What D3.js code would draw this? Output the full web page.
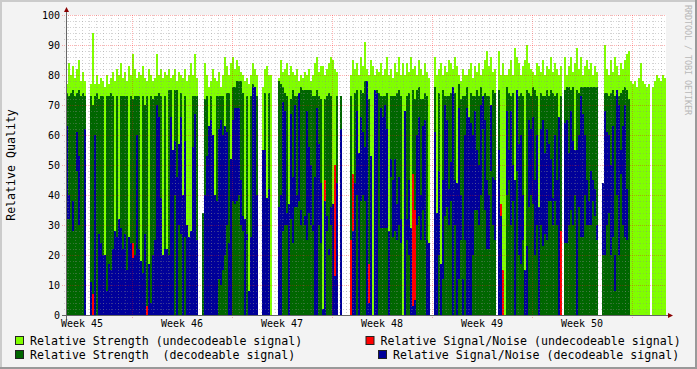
<!DOCTYPE html>
<html>
<head>
<meta charset="utf-8">
<script src="https://cdn.jsdelivr.net/npm/d3@7"></script>
<style>
  html, body { margin: 0; padding: 0; background: #fff; }
  svg { display: block; }
  text { font-family: "DejaVu Sans Mono", monospace; fill: #000; }
</style>
</head>
<body>
<svg id="chart" width="697" height="369"></svg>
<script>
// one sample every 12096 s (3.36 h), six weeks of samples
const startTime = Date.UTC( 2008, 10, 5, 9, 7, 12 );
const stepSeconds = 12096;

// Relative Strength (undecodeable signal)
const strengthUndecodable = [
  77,84,80,83,79,82,85,78,81,78,null,null,77,94,77,80,77,79,78,76,80,77,79,81,78,82,80,84,79,81,78,83,80,87,82,79,81,80,83,79,78,82,80,78,79,87,80,82,79,81,
  80,82,79,80,82,78,81,80,79,82,78,80,84,80,87,79,null,null,34,84,80,76,78,82,79,78,81,76,80,86,83,80,84,86,82,85,83,81,80,78,79,77,80,84,82,80,null,null,76,82,
  83,80,80,null,null,null,79,85,81,82,84,80,83,81,80,82,78,80,79,81,80,82,78,80,84,86,81,83,83,80,82,84,86,85,82,81,null,0,null,null,null,null,80,85,82,84,80,86,83,91,
  82,80,85,83,80,82,81,84,80,82,86,80,82,79,84,81,86,80,84,80,84,81,86,82,83,80,85,82,80,84,81,79,null,null,86,80,82,84,80,83,81,85,84,82,86,83,80,78,82,80,
  80,82,84,79,83,81,84,80,82,85,88,83,86,81,82,null,88,80,84,80,80,82,85,80,89,86,84,80,83,85,90,84,82,81,80,84,83,81,85,80,83,82,86,81,84,82,80,83,null,86,
  80,83,86,81,84,89,82,86,80,83,85,82,84,80,83,81,null,null,44,90,82,80,85,81,86,83,80,84,82,85,87,88,78,77,78,76,79,84,78,77,76,77,null,76,78,80,79,78,80,79
];

// Relative Strength (decodeable signal)
const strengthDecodable = [
  74,73,74,75,73,74,75,73,74,73,null,null,73,70,73,74,72,73,73,0,73,73,74,73,0,73,0,73,73,73,73,0,73,72,73,73,73,0,73,70,73,0,73,72,73,73,74,73,0,73,
  0,75,75,0,75,75,0,74,0,73,0,0,0,73,73,73,null,null,34,72,73,0,73,0,0,73,73,73,73,0,74,74,0,76,76,78,78,78,74,0,73,0,73,77,74,73,null,null,0,74,
  0,74,0,null,null,null,78,77,76,74,73,0,72,75,73,73,74,76,75,75,75,75,75,73,73,75,73,72,0,72,73,74,73,0,0,73,null,73,null,null,null,null,73,0,74,75,0,75,74,78,
  77,72,0,0,75,75,74,73,73,73,74,0,73,73,73,74,75,73,0,68,73,74,0,75,72,75,76,72,72,74,73,0,null,null,76,0,74,0,75,73,73,73,74,76,74,0,77,72,73,73,
  76,0,74,73,73,75,73,76,73,74,73,73,70,75,74,null,75,0,0,0,76,74,73,74,0,75,73,74,73,0,75,74,73,76,75,73,0,74,73,73,75,73,75,74,73,74,0,73,null,75,
  76,76,75,76,0,75,74,76,76,76,76,76,76,76,76,76,null,null,44,74,74,73,74,75,73,72,73,74,75,76,75,72,0,0,0,0,0,0,0,0,0,0,null,0,0,0,0,0,0,0
];

// Relative Signal/Noise (undecodeable signal)
const snrUndecodable = [
  0,0,0,0,0,0,0,0,0,0,null,null,0,7,0,0,0,0,0,0,0,0,0,0,0,0,0,0,0,0,0,0,0,24,0,0,0,0,0,0,3,0,0,0,0,0,0,0,0,0,
  0,0,0,0,0,0,0,0,0,0,0,0,0,0,0,0,null,null,0,0,0,0,0,0,0,0,0,0,0,0,0,0,0,0,0,0,0,0,0,0,0,0,0,0,0,0,null,null,0,0,
  0,0,0,null,null,null,0,0,0,0,0,0,0,0,0,0,0,0,0,0,0,0,0,0,0,0,0,0,0,45,0,0,0,0,50,0,null,0,null,null,null,null,25,47,0,0,0,0,0,0,
  0,17,0,0,0,0,0,0,0,0,0,0,0,0,0,0,0,0,0,0,0,0,0,47,35,0,0,0,0,0,0,0,null,null,0,0,0,0,0,0,0,0,0,0,0,0,0,0,0,0,
  0,0,0,0,0,0,0,0,0,0,0,0,0,0,0,null,0,37,15,0,0,0,0,0,0,0,0,0,0,0,0,0,0,0,0,0,0,0,0,0,0,0,0,0,0,0,0,28,null,0,
  0,0,0,0,0,0,0,0,0,0,0,0,0,0,0,0,null,null,0,0,0,0,0,0,0,0,0,0,0,0,0,0,0,0,0,0,0,0,0,0,0,0,null,0,0,0,0,0,0,0
];

// Relative Signal/Noise (decodeable signal), top of the band
const snrDecodable = [
  63,40,0,38,0,61,53,0,0,62,null,null,11,0,60,0,27,24,20,20,8,17,15,22,28,26,32,29,22,27,15,26,24,19,20,60,22,18,14,27,0,17,4,20,25,70,66,39,20,22,
  22,20,66,55,58,46,57,66,40,58,30,26,28,56,67,25,null,null,0,40,53,63,65,60,40,38,62,65,60,63,61,24,52,65,69,69,69,45,33,32,27,8,26,76,76,40,null,null,55,55,
  39,42,0,null,null,null,36,40,71,68,34,37,67,46,70,40,74,35,0,33,68,56,50,30,46,69,57,44,2,38,33,22,36,37,13,44,null,62,null,null,null,null,0,28,44,68,54,66,61,56,
  78,4,53,0,75,74,0,69,66,70,62,28,52,45,52,37,46,32,0,68,32,45,29,3,5,60,66,40,63,65,25,24,null,null,61,34,48,17,45,70,65,42,51,76,45,44,69,40,12,60,
  69,66,64,60,68,55,50,70,73,65,45,40,70,46,45,null,55,33,0,0,68,55,68,50,45,75,57,60,40,15,23,65,62,66,45,60,36,62,65,54,62,57,52,39,60,45,66,0,null,64,
  65,54,68,58,55,55,60,73,67,60,45,38,48,45,42,30,null,null,44,68,61,60,50,63,20,75,70,55,63,70,42,0,0,0,0,0,0,0,0,0,0,0,null,0,0,0,0,0,0,0
];

// decodeable strength still showing below the Signal/Noise band
const snrBandFloor = [
  32,32,0,28,0,48,30,0,0,0,null,null,0,0,0,0,0,0,0,0,0,0,0,0,0,0,0,0,0,0,0,0,0,0,0,0,0,0,0,0,0,0,0,0,0,0,0,0,0,0,
  0,0,0,0,40,0,30,27,0,26,0,0,0,0,0,0,null,null,0,0,0,0,0,0,0,0,12,10,15,20,30,0,0,38,37,38,40,30,28,0,25,0,0,0,0,0,null,null,0,0,
  0,0,0,null,null,null,0,0,28,30,30,0,32,24,36,36,38,30,0,30,25,34,30,28,0,0,30,24,0,0,28,20,30,0,0,0,null,0,null,null,null,null,0,0,0,40,0,38,40,38,
  0,0,0,0,0,0,0,29,29,29,29,0,46,26,28,25,30,24,0,0,25,20,0,0,0,30,33,25,35,25,0,0,null,null,0,0,20,0,12,33,36,30,38,0,30,0,12,25,0,25,
  0,0,0,20,35,35,30,40,62,35,22,22,48,30,25,null,0,0,0,0,40,45,30,38,0,48,20,17,25,0,0,36,40,37,20,30,0,30,23,27,25,38,38,30,38,30,0,0,null,24,
  24,30,35,30,40,0,36,26,26,40,30,30,30,38,33,25,null,null,20,20,30,34,20,26,8,40,20,47,30,26,25,0,0,0,0,0,0,0,0,0,0,0,null,0,0,0,0,0,0,0
];

const weekStarts = [ "2008-11-03", "2008-11-10", "2008-11-17", "2008-11-24", "2008-12-01", "2008-12-08" ];
const weekLabels = [ "Week 45", "Week 46", "Week 47", "Week 48", "Week 49", "Week 50" ];
const yTicks = [ 0, 10, 20, 30, 40, 50, 60, 70, 80, 90, 100 ];

const legendLabels = [
  "Relative Strength (undecodeable signal)",
  "Relative Signal/Noise (undecodeable signal)",
  "Relative Strength  (decodeable signal)",
  "Relative Signal/Noise (decodeable signal)"
];

const colLight = "#80ff00", colDark = "#006600", colRed = "#ff0000", colBlue = "#000099";

const svg = d3.select( "#chart" );
const W = 697, H = 369;
const pLeft = 66, pRight = 666, pTop = 15, pBottom = 315;

const n = strengthUndecodable.length;
const timeAt = i => new Date( startTime + i * stepSeconds * 1000 );

const x = d3.scaleUtc().domain( [ timeAt( 0 ), timeAt( n ) ] ).range( [ pLeft, pRight ] );
const y = d3.scaleLinear().domain( [ 0, 100 ] ).range( [ pBottom, pTop ] );

// background + frame
svg.append( "rect" ).attr( "width", W ).attr( "height", H ).attr( "fill", "#f3f3f3" );
svg.append( "path" ).attr( "d", `M0,0H${W}V2H2V${H}H0Z` ).attr( "fill", "#cbcbcb" );
svg.append( "path" ).attr( "d", `M${W},${H}H0V${H-2}H${W-2}V0H${W}Z` ).attr( "fill", "#999" );
svg.append( "rect" )
  .attr( "x", pLeft ).attr( "y", pTop )
  .attr( "width", pRight - pLeft ).attr( "height", pBottom - pTop )
  .attr( "fill", "#fff" );

// bars
function drawSeries( values, color, floorOf ) {
  const g = svg.append( "g" );
  values.forEach( ( v, i ) => {
    if( v == null || v <= 0 ) return;
    let hi = v;
    if( floorOf ) {
      hi = Math.min( v, floorOf[ i ] || 0 );
      if( hi <= 0 ) return;
    }
    const x0 = Math.round( x( timeAt( i ) ) ), x1 = Math.round( x( timeAt( i + 1 ) ) );
    g.append( "rect" )
      .attr( "x", x0 ).attr( "width", x1 - x0 )
      .attr( "y", Math.round( y( hi ) ) )
      .attr( "height", Math.round( y( 0 ) ) - Math.round( y( hi ) ) )
      .attr( "fill", color )
      .attr( "shape-rendering", "crispEdges" );
  } );
}

drawSeries( strengthUndecodable, colLight );
drawSeries( strengthDecodable, colDark );
drawSeries( snrUndecodable, colRed );
drawSeries( snrDecodable, colBlue );
drawSeries( snrDecodable, colDark, snrBandFloor );

// grid on top, like rrdtool
const grid = svg.append( "g" ).attr( "shape-rendering", "crispEdges" );
const minorCol = "rgba(140,140,140,0.38)", majorCol = "rgba(255,0,0,0.3)";

d3.range( 2, 100, 2 ).filter( v => v % 10 ).forEach( v => {
  grid.append( "line" )
    .attr( "x1", pLeft - 2 ).attr( "x2", pRight )
    .attr( "y1", y( v ) + 0.5 ).attr( "y2", y( v ) + 0.5 )
    .attr( "stroke", minorCol ).attr( "stroke-dasharray", "1,2" );
} );
const mondays = weekStarts.map( d => new Date( d + "T00:00:00Z" ) );
d3.utcHour.every( 12 ).range( x.domain()[ 0 ], x.domain()[ 1 ] ).forEach( t => {
  if( t.getUTCDay() === 1 && t.getUTCHours() === 0 ) return;
  const px = Math.round( x( t ) ) + 0.5;
  grid.append( "line" )
    .attr( "x1", px ).attr( "x2", px )
    .attr( "y1", pTop ).attr( "y2", pBottom + 2 )
    .attr( "stroke", minorCol ).attr( "stroke-dasharray", "1,2" );
} );
yTicks.filter( v => v > 0 ).forEach( v => {
  grid.append( "line" )
    .attr( "x1", pLeft - 4 ).attr( "x2", pRight )
    .attr( "y1", y( v ) + 0.5 ).attr( "y2", y( v ) + 0.5 )
    .attr( "stroke", majorCol ).attr( "stroke-dasharray", "1,1" );
} );
d3.utcMonday.range( x.domain()[ 0 ], x.domain()[ 1 ] ).forEach( t => {
  const px = Math.round( x( t ) ) + 0.5;
  grid.append( "line" )
    .attr( "x1", px ).attr( "x2", px )
    .attr( "y1", pTop ).attr( "y2", pBottom + 4 )
    .attr( "stroke", majorCol ).attr( "stroke-dasharray", "1,1" );
} );

// axes
svg.append( "line" )
  .attr( "x1", pLeft - 4 ).attr( "x2", pRight + 4 )
  .attr( "y1", pBottom + 0.5 ).attr( "y2", pBottom + 0.5 )
  .attr( "stroke", "#666" );
svg.append( "line" )
  .attr( "x1", pLeft + 0.5 ).attr( "x2", pLeft + 0.5 )
  .attr( "y1", pBottom + 4 ).attr( "y2", pTop - 5 )
  .attr( "stroke", "#666" );
svg.append( "path" )
  .attr( "d", `M${pRight + 2},${pBottom - 2}L${pRight + 7},${pBottom + 0.5}L${pRight + 2},${pBottom + 3}Z` )
  .attr( "fill", "#8b0000" );
svg.append( "path" )
  .attr( "d", `M${pLeft - 2},${pTop - 3}L${pLeft + 0.5},${pTop - 8}L${pLeft + 3},${pTop - 3}Z` )
  .attr( "fill", "#8b0000" );

// tick labels
svg.append( "g" ).selectAll( "text" )
  .data( yTicks )
  .join( "text" )
    .attr( "x", pLeft - 6 )
    .attr( "y", d => y( d ) + 0.5 )
    .attr( "dy", "0.36em" )
    .attr( "text-anchor", "end" )
    .attr( "font-size", 10 )
    .text( d => d );

svg.append( "g" ).selectAll( "text" )
  .data( mondays )
  .join( "text" )
    .attr( "x", d => x( d3.utcHour.offset( d, 84 ) ) )
    .attr( "y", 327 )
    .attr( "text-anchor", "middle" )
    .attr( "font-size", 10 )
    .text( ( d, i ) => weekLabels[ i ] );

svg.append( "text" )
  .attr( "transform", `translate(15,${( pTop + pBottom ) / 2}) rotate(-90)` )
  .attr( "text-anchor", "middle" )
  .attr( "font-size", 11.6 )
  .text( "Relative Quality" );

svg.append( "text" )
  .attr( "transform", "translate(684.5,5) rotate(90)" )
  .attr( "font-size", 8.5 )
  .attr( "textLength", 110 )
  .attr( "lengthAdjust", "spacing" )
  .style( "fill", "#b8b8b8" )
  .text( "RRDTOOL / TOBI OETIKER" );

// legend
const legendColors = [ colLight, colRed, colDark, colBlue ];
const legendSpots = [ [ 30, 345 ], [ 380.5, 345 ], [ 30, 359 ], [ 393, 359 ] ];
legendLabels.forEach( ( label, i ) => {
  const [ tx, ty ] = legendSpots[ i ];
  svg.append( "rect" )
    .attr( "x", tx - 14.5 ).attr( "y", ty - 8.5 )
    .attr( "width", 8 ).attr( "height", 8 )
    .attr( "fill", legendColors[ i ] )
    .attr( "stroke", "#222" );
  svg.append( "text" )
    .attr( "x", tx ).attr( "y", ty )
    .attr( "font-size", 11.6 )
    .style( "white-space", "pre" )
    .text( label );
} );
</script>
</body>
</html>
